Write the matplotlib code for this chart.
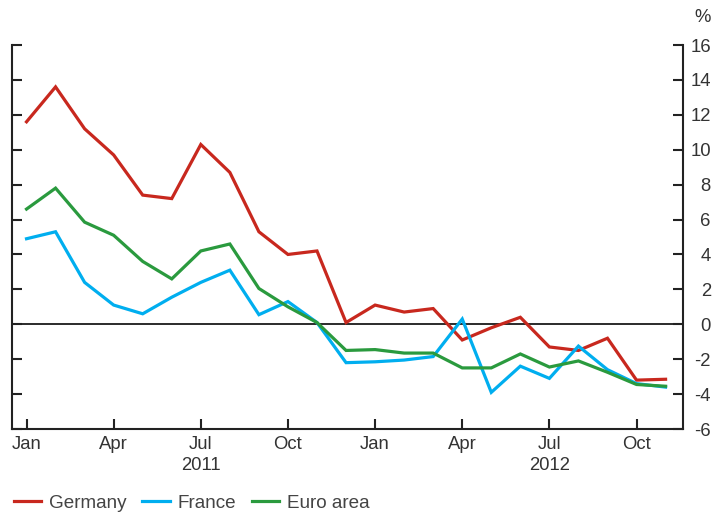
import numpy as np
import matplotlib
matplotlib.use('Agg')
import matplotlib.pyplot as plt

plt.rcParams['font.family'] = ['Liberation Sans', 'DejaVu Sans']
plt.rcParams['axes.unicode_minus'] = False

# Monthly data, Jan 2011 - Nov 2012 (per cent)
months = ['Jan', 'Feb', 'Mar', 'Apr', 'May', 'Jun', 'Jul', 'Aug', 'Sep', 'Oct', 'Nov', 'Dec',
          'Jan', 'Feb', 'Mar', 'Apr', 'May', 'Jun', 'Jul', 'Aug', 'Sep', 'Oct', 'Nov']
germany = [11.6, 13.6, 11.2, 9.7, 7.4, 7.2, 10.3, 8.7, 5.3, 4.0, 4.2, 0.1,
           1.1, 0.7, 0.9, -0.9, -0.2, 0.4, -1.3, -1.5, -0.8, -3.2, -3.15]
france = [4.9, 5.3, 2.4, 1.1, 0.6, 1.55, 2.4, 3.1, 0.55, 1.3, 0.1, -2.2,
          -2.15, -2.05, -1.85, 0.3, -3.9, -2.4, -3.1, -1.25, -2.6, -3.4, -3.6]
euro_area = [6.6, 7.8, 5.85, 5.1, 3.6, 2.6, 4.2, 4.6, 2.05, 1.0, 0.1, -1.5,
             -1.45, -1.65, -1.65, -2.5, -2.5, -1.7, -2.45, -2.1, -2.75, -3.45, -3.55]
series = [('Germany', germany, '#c8281e'),
          ('France', france, '#00aeef'),
          ('Euro area', euro_area, '#2a9a3e')]

tick_idx = [0, 3, 6, 9, 12, 15, 18, 21]
years = [(6, '2011'), (18, '2012')]
yticks = np.arange(-6, 17, 2)

TXT = '#333333'
FS = 13.3

fig = plt.figure(figsize=(7.16, 5.14), dpi=100)
ax = fig.add_axes([12/716, 1-429/514, (683-12)/716, (429-45)/514])

x = np.arange(len(months))
for name, vals, col in series:
    ax.plot(x, vals, color=col, lw=2.3, label=name, solid_joinstyle='miter')

ax.axhline(0, color='#1a1a1a', lw=1.3, zorder=1)

ax.set_xlim(-0.5, 22.6)
ax.set_ylim(-6, 16)

for s in ['left', 'right', 'bottom']:
    ax.spines[s].set_linewidth(1.5)
    ax.spines[s].set_color('#222222')
ax.spines['top'].set_visible(False)

ax.set_xticks(tick_idx)
ax.set_xticklabels([months[i] for i in tick_idx])
ax.tick_params(axis='x', direction='in', length=7, width=1.5, color='#222222',
               labelsize=FS, labelcolor=TXT, pad=5)

ax.set_yticks(yticks)
ax.set_yticklabels([str(v) for v in yticks])
ax.tick_params(axis='y', direction='in', length=7, width=1.5, color='#222222',
               left=True, right=True, labelleft=False, labelright=True,
               labelsize=FS, labelcolor=TXT, pad=20)
for lab in ax.get_yticklabels():
    lab.set_horizontalalignment('right')

for i, yr in years:
    ax.text(i, -0.072, yr, transform=ax.get_xaxis_transform(), ha='center', va='top',
            fontsize=FS, color=TXT)

fig.text(711/716, 1-17/514, '%', ha='right', va='center', fontsize=FS, color=TXT)

fig.legend(loc='center left', bbox_to_anchor=(8/716, 1-503/514), ncol=3, frameon=False,
           fontsize=13.6, labelcolor='#444444', handlelength=1.45, handletextpad=0.4,
           columnspacing=0.85, borderaxespad=0, borderpad=0.3)

fig.savefig('out.png', dpi=100)
